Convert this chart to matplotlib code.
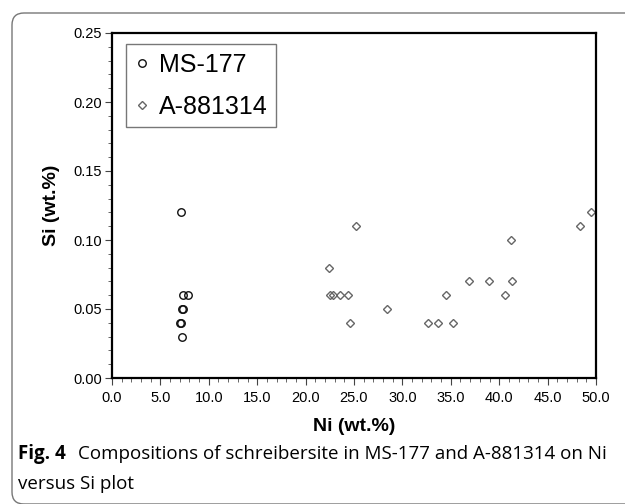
import matplotlib
matplotlib.use("Agg")
import matplotlib.pyplot as plt
from matplotlib.patches import FancyBboxPatch
from matplotlib.transforms import IdentityTransform
from matplotlib.ticker import MultipleLocator, FormatStrFormatter

# Data
ms177_ni = [7.13, 7.37, 7.82, 7.2, 7.37, 7.02, 7.13, 7.28]
ms177_si = [0.12, 0.06, 0.06, 0.05, 0.05, 0.04, 0.04, 0.03]

a881314_ni = [25.2, 22.4, 22.5, 22.8, 23.6, 24.4, 24.6, 28.4, 32.6, 33.7,
              35.2, 34.5, 36.9, 38.9, 41.3, 40.6, 41.2, 48.3, 49.5]
a881314_si = [0.11, 0.08, 0.06, 0.06, 0.06, 0.06, 0.04, 0.05, 0.04, 0.04,
              0.04, 0.06, 0.07, 0.07, 0.07, 0.06, 0.10, 0.11, 0.12]

series_labels = ["MS-177", "A-881314"]
x_label = "Ni (wt.%)"
y_label = "Si (wt.%)"
caption_bold = "Fig. 4"
caption_line1 = "Compositions of schreibersite in MS-177 and A-881314 on Ni"
caption_line2 = "versus Si plot"

W, H = 625, 504
fig = plt.figure(figsize=(W / 100, H / 100), dpi=100)
ax = fig.add_axes([112 / W, 1 - 378 / H, (596 - 112) / W, (378 - 33) / H])

ax.plot(ms177_ni, ms177_si, linestyle="none", marker="o", markersize=5.4,
        markerfacecolor="none", markeredgecolor="#111111", markeredgewidth=1.0,
        label=series_labels[0])
ax.plot(a881314_ni, a881314_si, linestyle="none", marker="D", markersize=3.7,
        markerfacecolor="none", markeredgecolor="#666666", markeredgewidth=1.0,
        label=series_labels[1])

ax.set_xlim(0, 50)
ax.set_ylim(0, 0.25)
ax.xaxis.set_major_locator(MultipleLocator(5))
ax.xaxis.set_minor_locator(MultipleLocator(1))
ax.yaxis.set_major_locator(MultipleLocator(0.05))
ax.yaxis.set_minor_locator(MultipleLocator(0.01))
ax.xaxis.set_major_formatter(FormatStrFormatter("%.1f"))
ax.yaxis.set_major_formatter(FormatStrFormatter("%.2f"))

tickfont = "Liberation Sans"
for lab in ax.get_xticklabels() + ax.get_yticklabels():
    lab.set_fontfamily(tickfont)
ax.tick_params(which="major", direction="out", length=5, width=0.8,
               labelsize=10.5, color="#444444")
ax.tick_params(axis="x", which="major", pad=4)
ax.tick_params(axis="y", which="major", pad=2)
ax.tick_params(which="minor", direction="out", length=3, width=0.7,
               color="#666666")
for s in ax.spines.values():
    s.set_linewidth(1.6)
    s.set_color("black")

ax.set_xlabel(x_label, fontsize=14, fontweight="bold", family=tickfont, labelpad=10)
ax.set_ylabel(y_label, fontsize=14, fontweight="bold", family=tickfont, labelpad=10)

leg = ax.legend(loc="upper left", bbox_to_anchor=(0.029, 0.968), borderaxespad=0,
                prop={"family": tickfont, "size": 18}, frameon=True, fancybox=False,
                handletextpad=0.38, handlelength=0.6, borderpad=0.34,
                labelspacing=0.72, markerscale=1.0)
leg.get_frame().set_edgecolor("#555555")
leg.get_frame().set_linewidth(1.0)

# Figure frame with rounded corners (pixel coordinates)
frame = FancyBboxPatch((12, 0), 700, H - 13 - 0,
                       boxstyle="round,pad=0,rounding_size=12",
                       transform=IdentityTransform(), fill=False,
                       edgecolor="#777777", linewidth=1.0, clip_on=False)
fig.patches.append(frame)

capfont = "Open Sans"
t1 = fig.text(18 / W, 1 - 454 / H, caption_bold, fontsize=13.5, fontweight="bold",
              family=capfont, va="center", ha="left")
fig.canvas.draw()
bb = t1.get_window_extent()
fig.text((bb.x1 + 12) / W, 1 - 454 / H, caption_line1, fontsize=13.5,
         family=capfont, va="center", ha="left")
fig.text(18 / W, 1 - 484 / H, caption_line2, fontsize=13.5,
         family=capfont, va="center", ha="left")

fig.savefig("out.png", dpi=100)
